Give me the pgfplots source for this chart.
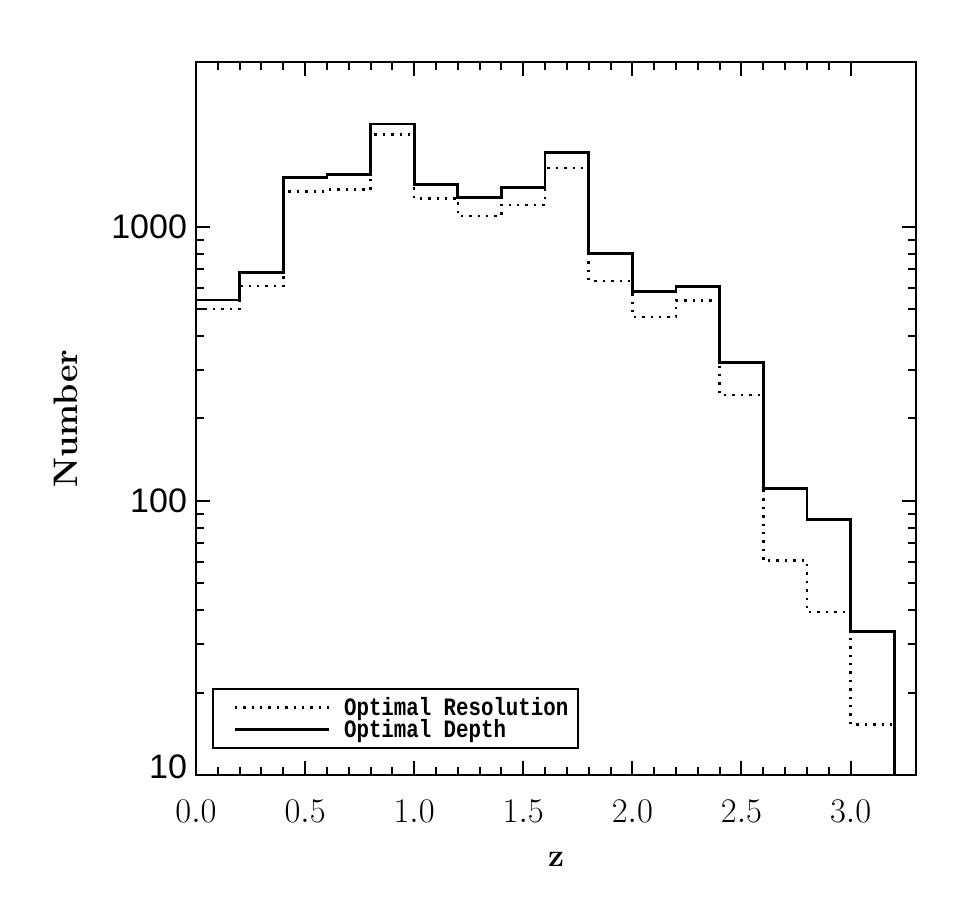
\documentclass[border=0pt]{standalone}
\usepackage{fontspec}
\usepackage{pgfplots}
\pgfplotsset{compat=1.18}
\setmainfont{Latin Modern Roman}
\newfontfamily\legendfont[FakeStretch=0.83]{Liberation Mono}
\newfontfamily\ticksans{Liberation Sans}

% Redshift histograms, bin width 0.2 (left bin edges)
\pgfplotstableread{
z     n
0.0   502
0.2   609
0.4   1348
0.6   1368
0.8   2174
1.0   1272
1.2   1096
1.4   1202
1.6   1639
1.8   636
2.0   469
2.2   540
2.4   244
2.6   60.5
2.8   39.3
3.0   15.3
3.2   0.1
}\resolution
\pgfplotstableread{
z     n
0.0   541
0.2   683
0.4   1516
0.6   1555
0.8   2377
1.0   1426
1.2   1285
1.4   1391
1.6   1869
1.8   798
2.0   580
2.2   605
2.4   320
2.6   111
2.8   85.6
3.0   33.4
3.2   0.1
}\depth

\begin{document}
\begin{tikzpicture}
\begin{axis}[
  name=ax,
  scale only axis,
  width=360pt, height=356.5pt,
  ymode=log,
  xmin=0, xmax=3.3,
  ymin=10, ymax=4000,
  axis line style={line width=1.1pt},
  every tick/.style={black, line width=1pt},
  tick align=inside,
  major tick length=7pt,
  minor tick length=3.8pt,
  xtick={0,0.5,...,3.0},
  minor x tick num=4,
  ytick={10,100,1000},
  yticklabels={\raisebox{8pt}{10},100,1000},
  xticklabel style={/pgf/number format/.cd, fixed, fixed zerofill, precision=1,
                    /tikz/.cd, font=\fontsize{16.5}{18}\selectfont, yshift=-9pt},
  yticklabel style={font=\ticksans\fontsize{17}{19}\selectfont, xshift=-1pt},
  xlabel={z},
  ylabel={Number},
  xlabel style={font=\bfseries\fontsize{16}{18}\selectfont, yshift=-8pt},
  ylabel style={font=\bfseries\fontsize{17}{20}\selectfont, yshift=10pt},
  clip=true,
  legend cell align=left,
  legend style={
    at={(0.0218,0.036)}, anchor=south west,
    draw=black, line width=1pt,
    font=\legendfont\bfseries\fontsize{12.5}{14}\selectfont,
    inner xsep=4pt, inner ysep=3pt,
    row sep=-1.5pt,
    nodes={inner sep=1pt},
    /tikz/every odd column/.append style={column sep=6pt},
  },
  legend image code/.code={
    \path[draw=none] (0pt,0pt) rectangle (54pt,0pt);
    \draw[#1] (7pt,0pt) -- (54pt,0pt);},
]
\addplot[const plot mark left, black, line width=1.3pt,
         dash pattern=on 1.2pt off 3pt] table[x=z, y=n] {\resolution};
\addlegendentry{Optimal Resolution}
\addplot[const plot mark left, black, line width=1.4pt] table[x=z, y=n] {\depth};
\addlegendentry{Optimal Depth}
\end{axis}
\path ([shift={(-98pt,-62.5pt)}]ax.south west) rectangle ([shift={(29.5pt,31pt)}]ax.north east);
\end{tikzpicture}
\end{document}
